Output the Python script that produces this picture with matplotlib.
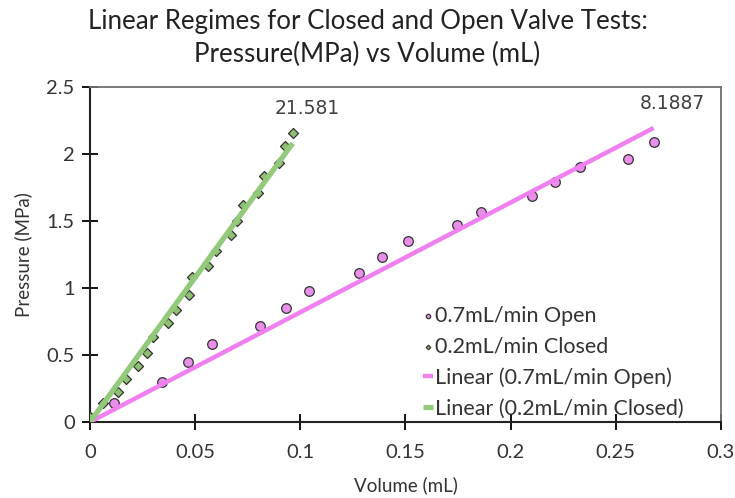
import matplotlib
matplotlib.use("Agg")
import matplotlib.pyplot as plt
from matplotlib.ticker import FormatStrFormatter, MultipleLocator
import numpy as np

plt.rcParams['font.family'] = ['Lato', 'DejaVu Sans']

# Open valve test, 0.7 mL/min
open_vol = [0.0, 0.0116, 0.0344, 0.0467, 0.058, 0.081, 0.093, 0.104, 0.128,
            0.139, 0.151, 0.1745, 0.186, 0.21, 0.221, 0.233, 0.256, 0.268]
open_pres = [0.03, 0.144, 0.296, 0.45, 0.58, 0.72, 0.85, 0.98, 1.11,
             1.23, 1.35, 1.47, 1.57, 1.69, 1.79, 1.90, 1.96, 2.09]

# Closed valve test, 0.2 mL/min
closed_vol = [0.0, 0.0063, 0.0135, 0.017, 0.023, 0.027, 0.030, 0.037, 0.041,
              0.047, 0.0486, 0.056, 0.060, 0.067, 0.0698, 0.0729, 0.080,
              0.0827, 0.090, 0.0927, 0.0964]
closed_pres = [0.04, 0.14, 0.226, 0.32, 0.42, 0.517, 0.632, 0.737, 0.836,
               0.948, 1.08, 1.166, 1.276, 1.395, 1.502, 1.619, 1.711,
               1.836, 1.935, 2.06, 2.159]

# Trendline slopes (zero intercept)
open_slope = 8.1887
closed_slope = 21.581

open_label = "0.7mL/min Open"
closed_label = "0.2mL/min Closed"

pink = "#f07ff0"
pink_marker = "#e98ee9"
green = "#93c97a"
green_marker = "#8fbf72"

fig = plt.figure(figsize=(7.35, 4.98), dpi=100)
ax = fig.add_axes([0.1224, 0.1526, 0.8585, 0.6727])

ax.scatter(open_vol, open_pres, s=48, marker='o', facecolor=pink_marker,
           edgecolor='#333333', linewidth=0.9, zorder=3, label=open_label)
ax.scatter(closed_vol, closed_pres, s=26, marker='D', facecolor=green_marker,
           edgecolor='#333333', linewidth=0.9, zorder=3, label=closed_label)

xo = np.array([0.0, max(open_vol)])
xc = np.array([0.0, max(closed_vol)])
ax.plot(xo, open_slope * xo, color=pink, lw=3.2, zorder=4,
        solid_capstyle='butt', label=f"Linear ({open_label})")
ax.plot(xc, closed_slope * xc, color=green, lw=3.8, zorder=4,
        solid_capstyle='butt', label=f"Linear ({closed_label})")

ax.text(0.1032, 2.34, f"{closed_slope:g}", ha='center', va='center',
        fontsize=13.5, color='#404040', family=['DejaVu Sans'])
ax.text(0.2767, 2.38, f"{open_slope:g}", ha='center', va='center',
        fontsize=13.5, color='#404040', family=['DejaVu Sans'])

ax.set_xlim(0, 0.3)
ax.set_ylim(0, 2.5)
ax.xaxis.set_major_locator(MultipleLocator(0.05))
ax.yaxis.set_major_locator(MultipleLocator(0.5))
ax.xaxis.set_major_formatter(FormatStrFormatter('%g'))
ax.yaxis.set_major_formatter(FormatStrFormatter('%g'))
ax.tick_params(axis='both', direction='inout', length=12, width=1.3,
               labelsize=14.5, colors='black', labelcolor='#333333', pad=5)
ax.tick_params(axis='x', pad=10)

for side in ('left', 'bottom'):
    ax.spines[side].set_linewidth(1.5)
    ax.spines[side].set_color('#222222')
for side in ('top', 'right'):
    ax.spines[side].set_linewidth(1.3)
    ax.spines[side].set_color('#707070')

ax.set_xlabel("Volume (mL)", fontsize=13.5, color='#333333', labelpad=11)
ax.set_ylabel("Pressure (MPa)", fontsize=13.5, color='#333333', labelpad=10)

fig.suptitle("Linear Regimes for Closed and Open Valve Tests:\nPressure(MPa) vs Volume (mL)",
             fontsize=18.6, color='#222222', y=0.982, linespacing=1.42)

leg = ax.legend(loc='lower right', bbox_to_anchor=(0.965, -0.035), frameon=False,
                fontsize=15.5, handlelength=0.45, handletextpad=0.1,
                labelspacing=0.5, markerscale=0.45, borderaxespad=0.3)
for t in leg.get_texts():
    t.set_color('#333333')

fig.savefig("out.png", dpi=100)
